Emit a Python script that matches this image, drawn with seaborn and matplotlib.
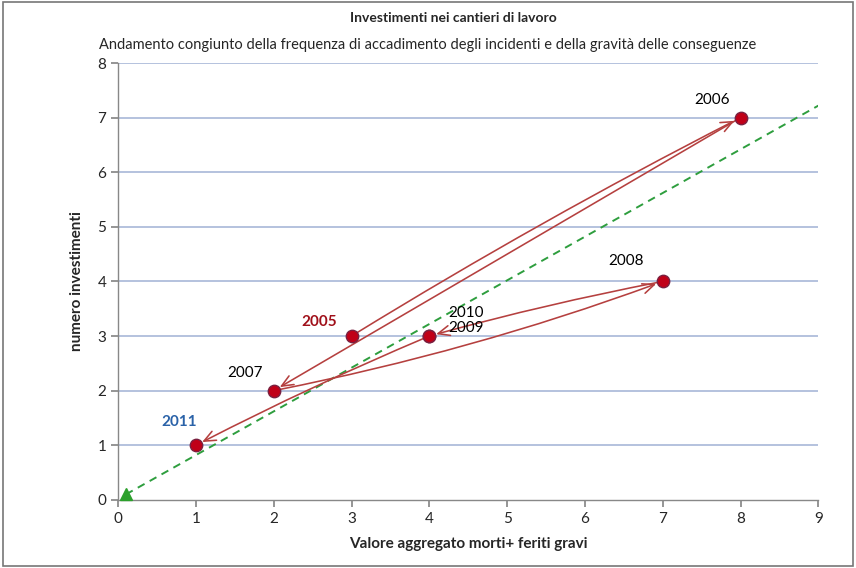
import numpy as np
import matplotlib
matplotlib.use("Agg")
import matplotlib.pyplot as plt
import seaborn as sns
import pandas as pd

# data
years = [2005, 2006, 2007, 2008, 2009, 2010, 2011]
morti_feriti = [3, 8, 2, 7, 4, 4, 1]
investimenti = [3, 7, 2, 4, 3, 3, 1]
trend_x = [0.1, 9.0]
trend_y = [0.1, 7.22]

df = pd.DataFrame({'anno': years, 'x': morti_feriti, 'y': investimenti})

sns.set_theme(style='white')
plt.rcParams['font.family'] = ['Lato', 'DejaVu Sans']

fig = plt.figure(figsize=(8.56, 5.68), dpi=100)
ax = fig.add_axes([0.138, 0.12, 0.818, 0.769])

# horizontal gridlines
for yv in range(1, 9):
    ax.axhline(yv, color='#a8b8d8', lw=1.2, zorder=0)

# trend line
ax.plot(trend_x, trend_y, color='#2e9e3e', ls='--', lw=1.4, dashes=(4, 3), zorder=1)
ax.plot(trend_x[0], trend_y[0], marker='^', color='#2ca02c', ms=9, zorder=3, clip_on=False)

# arrows between consecutive years (hand-drawn, nearly straight)
rads = [-0.02, 0.0, 0.04, 0.02, 0, 0.02]
for i in range(len(df) - 1):
    x0, y0 = df.x[i], df.y[i]
    x1, y1 = df.x[i + 1], df.y[i + 1]
    if x0 == x1 and y0 == y1:
        continue
    ax.annotate('', xy=(x1, y1), xytext=(x0, y0),
                arrowprops=dict(arrowstyle='->,head_length=0.7,head_width=0.3',
                                color='#b5403f', lw=1.15,
                                connectionstyle=f'arc3,rad={rads[i]}',
                                shrinkA=3, shrinkB=5),
                zorder=2)

sns.scatterplot(data=df, x='x', y='y', ax=ax, color='#c00018', s=80,
                edgecolor='#7a2040', linewidth=1, zorder=4)

# year labels
label_pos = {2005: (2.35, 3.18), 2006: (7.4, 7.25), 2007: (1.4, 2.25),
             2008: (6.3, 4.3), 2009: (4.25, 3.07), 2010: (4.25, 3.35),
             2011: (0.55, 1.35)}
for yr in years:
    lx, ly = label_pos[yr]
    if yr == 2005:
        ax.text(lx, ly, str(yr), color='#a0101a', fontsize=11, fontweight='bold')
    elif yr == 2011:
        ax.text(lx, ly, str(yr), color='#2a62a8', fontsize=11, fontweight='bold')
    else:
        ax.text(lx, ly, str(yr), color='black', fontsize=11)

ax.set_xlim(0, 9)
ax.set_ylim(0, 8)
ax.set_xticks(range(0, 10))
ax.set_yticks(range(0, 9))
ax.tick_params(axis='both', which='both', length=5, color='#888888', direction='out',
               labelsize=11, left=True, bottom=True)
for s in ['top', 'right']:
    ax.spines[s].set_visible(False)
for s in ['left', 'bottom']:
    ax.spines[s].set_color('#888888')
    ax.spines[s].set_linewidth(1)

ax.set_xlabel('Valore aggregato morti+ feriti gravi', fontsize=11, fontweight='bold', labelpad=8)
ax.set_ylabel('numero investimenti', fontsize=11, fontweight='bold', labelpad=10)

fig.text(0.53, 1 - 18 / 568, 'Investimenti nei cantieri di lavoro', ha='center', va='center',
         fontsize=10, fontweight='bold')
fig.text(0.50, 1 - 45 / 568, 'Andamento congiunto della frequenza di accadimento degli incidenti e della gravità delle conseguenze',
         ha='center', va='center', fontsize=10.5)

# outer frame
fig.patches.append(plt.Rectangle((0.003, 0.003), 0.994, 0.994, transform=fig.transFigure,
                                 fill=False, edgecolor='#777777', lw=1.2))

fig.savefig('out.png', dpi=100)
